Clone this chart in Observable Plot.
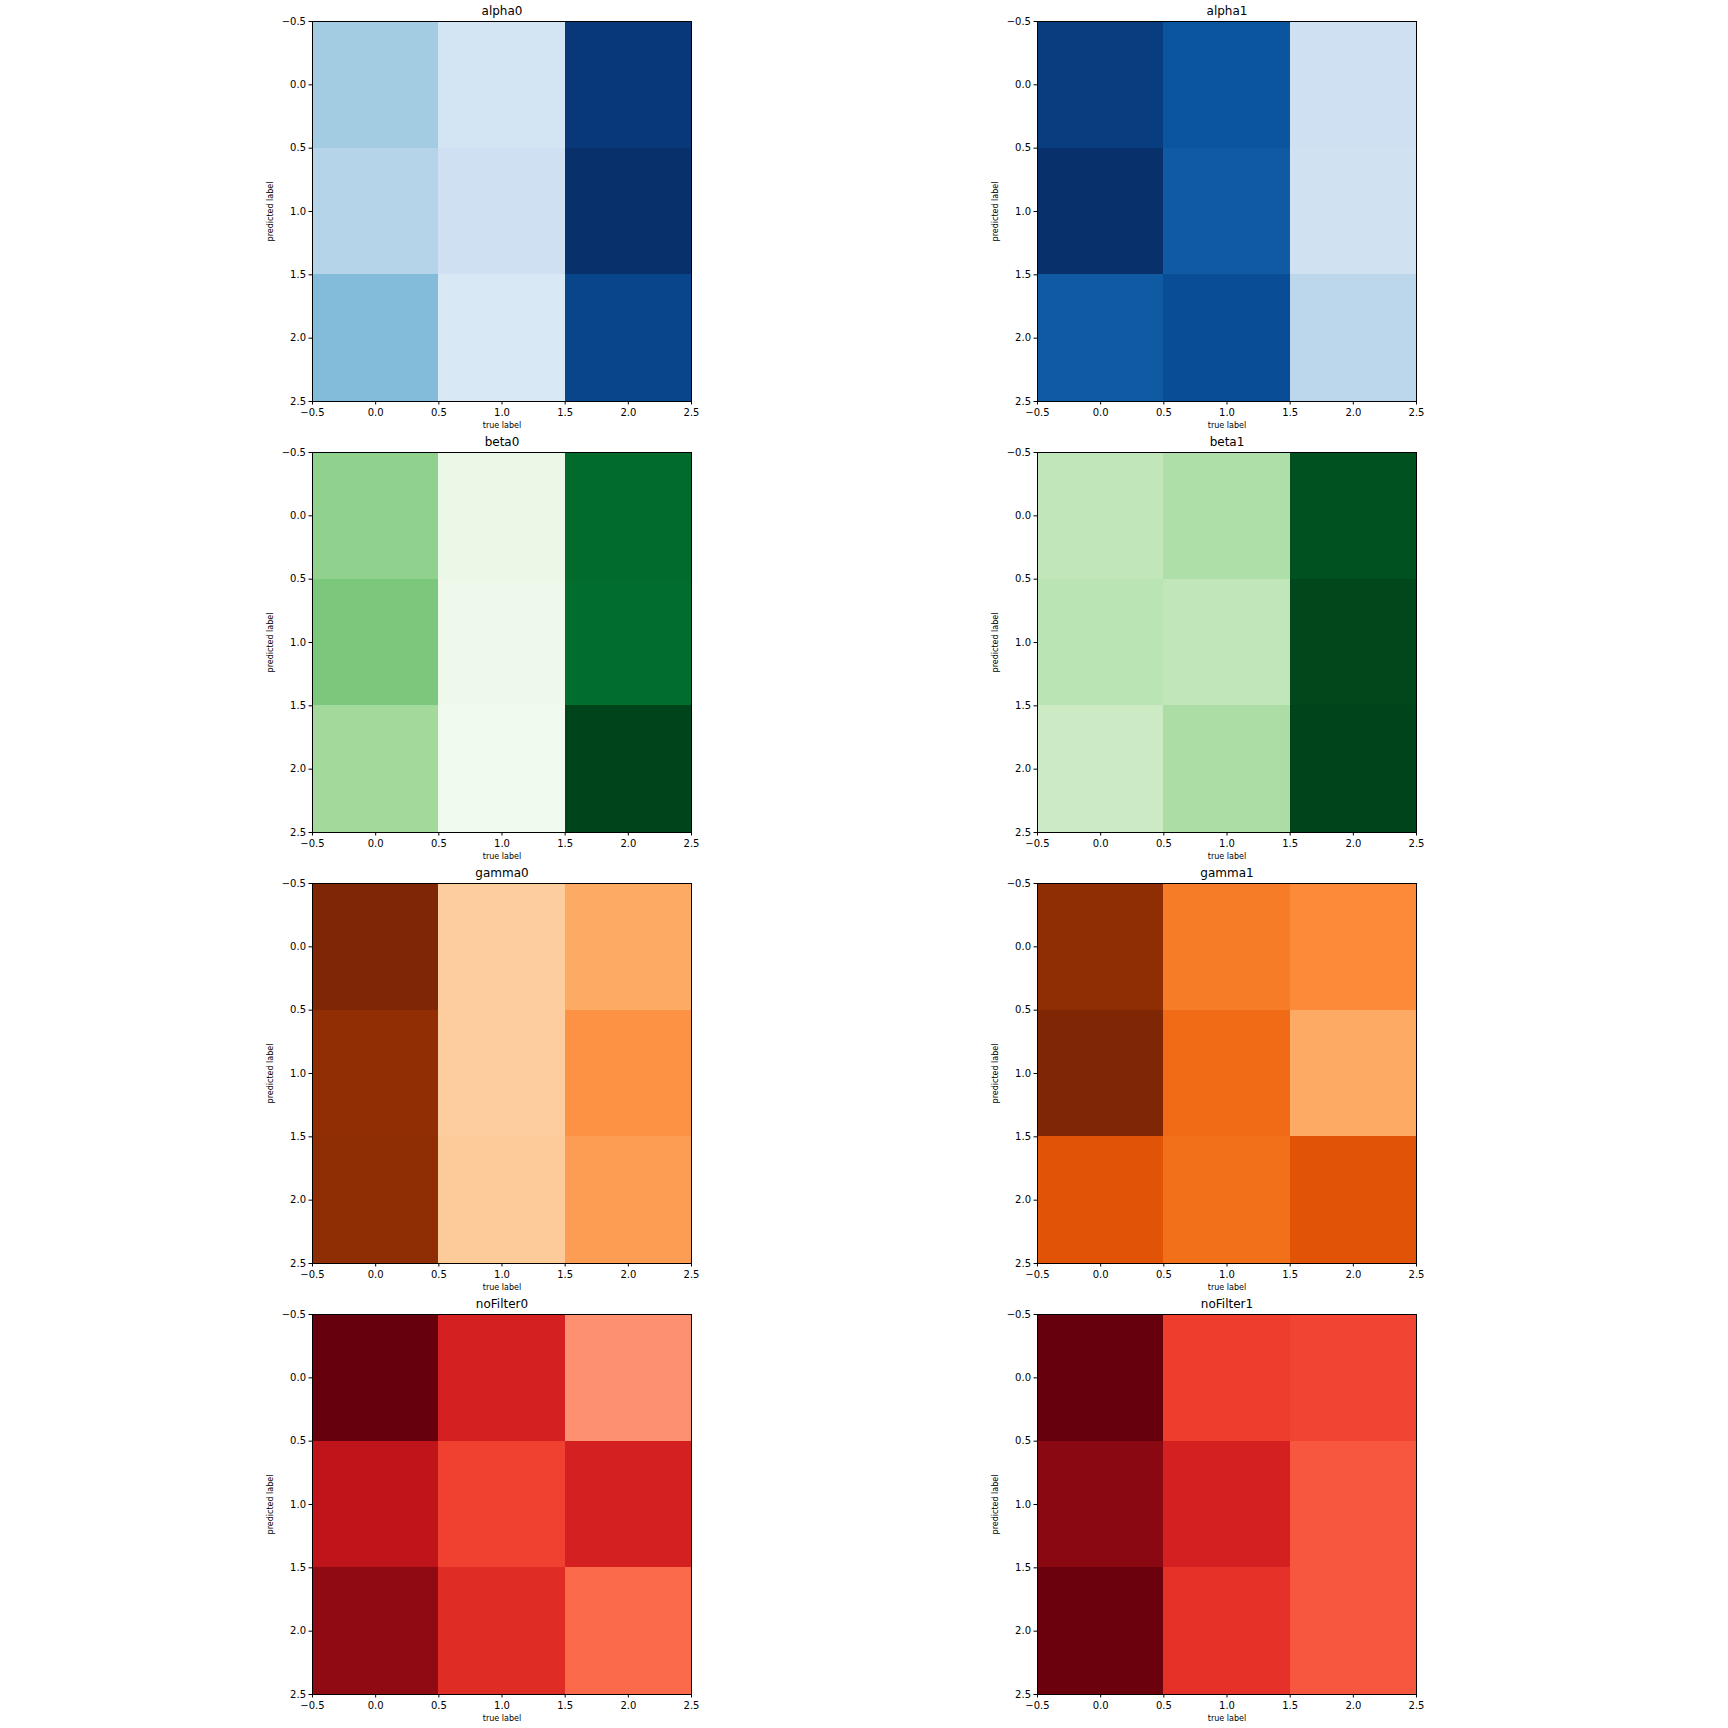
<!DOCTYPE html>
<html>
<head>
<meta charset="utf-8">
<script src="https://cdn.jsdelivr.net/npm/d3@7"></script>
<script src="https://cdn.jsdelivr.net/npm/@observablehq/plot@0.6"></script>
<style>
  body { margin: 0; background: white; }
  #root { position: relative; width: 1728px; height: 1728px; background: white; font-family: "DejaVu Sans", sans-serif; }
  #root > div { position: absolute; }
</style>
</head>
<body>
<div id="root"></div>
<script>
// Matrices (rows = predicted label, columns = true label), relative intensities
const alpha0   = [[36, 18, 97], [30, 21, 100], [44, 15, 92]];
const alpha1   = [[95, 86, 21], [100, 84, 20], [84, 89, 28]];
const beta0    = [[42, 8, 88], [48, 6, 87], [37, 4, 100]];
const beta1    = [[27, 33, 96], [29, 27, 99], [23, 34, 100]];
const gamma0   = [[100, 26, 39], [94, 26, 48], [95, 27, 44]];
const gamma1   = [[95, 56, 51], [100, 62, 39], [71, 60, 71]];
const noFilter0 = [[100, 72, 38], [79, 61, 72], [92, 68, 50]];
const noFilter1 = [[100, 62, 60], [93, 72, 55], [99, 66, 55]];

const panelNames = ["alpha0", "alpha1", "beta0", "beta1", "gamma0", "gamma1", "noFilter0", "noFilter1"];
const panelData = [alpha0, alpha1, beta0, beta1, gamma0, gamma1, noFilter0, noFilter1];

const tickValues = [-0.5, 0.0, 0.5, 1.0, 1.5, 2.0, 2.5];
const xLabel = "true label";
const yLabel = "predicted label";

const ramps = {
  Blues:   ["#f7fbff","#deebf7","#c6dbef","#9ecae1","#6baed6","#4292c6","#2171b5","#08519c","#08306b"],
  Greens:  ["#f7fcf5","#e5f5e0","#c7e9c0","#a1d99b","#74c476","#41ab5d","#238b45","#006d2c","#00441b"],
  Oranges: ["#fff5eb","#fee6ce","#fdd0a2","#fdae6b","#fd8d3c","#f16913","#d94801","#a63603","#7f2704"],
  Reds:    ["#fff5f0","#fee0d2","#fcbba1","#fc9272","#fb6a4a","#ef3b2c","#cb181d","#a50f15","#67000d"]
};
const panelRamps = ["Blues", "Blues", "Greens", "Greens", "Oranges", "Oranges", "Reds", "Reds"];

const root = document.getElementById("root");
const M = {top: 25, left: 60, right: 20, bottom: 35};
const W = 379, H = 380;
const colLeft = [312.3, 1037.3];
const rowTop = 21.3, rowStep = 431;

panelData.forEach((mat, k) => {
  const cells = [];
  mat.forEach((row, i) => row.forEach((v, j) => cells.push({i, j, v})));
  const vmax = d3.max(cells, d => d.v);
  const ramp = ramps[panelRamps[k]];
  const plot = Plot.plot({
    width: W + M.left + M.right,
    height: H + M.top + M.bottom,
    marginTop: M.top, marginLeft: M.left, marginRight: M.right, marginBottom: M.bottom,
    style: {background: "transparent", fontFamily: "DejaVu Sans, sans-serif", color: "#000"},
    x: {domain: [-0.5, 2.5], axis: null},
    y: {domain: [-0.5, 2.5], reverse: true, axis: null},
    color: {type: "linear", domain: d3.range(9).map(q => q / 8 * vmax), range: ramp, interpolate: "rgb"},
    marks: [
      Plot.rect(cells, {x1: d => d.j - 0.5, x2: d => d.j + 0.5, y1: d => d.i - 0.5, y2: d => d.i + 0.5, fill: "v", inset: 0, shapeRendering: "crispEdges"}),
      Plot.frame({stroke: "#000", strokeWidth: 1}),
      Plot.axisX({ticks: tickValues, tickFormat: d3.format(".1f"), tickSize: 3.5, tickPadding: 4, fontSize: 10, label: null, anchor: "bottom"}),
      Plot.axisY({ticks: tickValues, tickFormat: d3.format(".1f"), tickSize: 3.5, tickPadding: 3, fontSize: 10, label: null, anchor: "left"}),
      Plot.text([panelNames[k]], {text: d => d, frameAnchor: "top", lineAnchor: "middle", textAnchor: "middle", dy: -10, fontSize: 12, fill: "#000"}),
      Plot.text([xLabel], {text: d => d, frameAnchor: "bottom", lineAnchor: "middle", textAnchor: "middle", dy: 24, fontSize: 8, fill: "#000"}),
      Plot.text([yLabel], {text: d => d, frameAnchor: "left", lineAnchor: "middle", textAnchor: "middle", dx: -42, rotate: -90, fontSize: 8, fill: "#000"})
    ]
  });
  const wrap = document.createElement("div");
  wrap.style.left = (colLeft[k % 2] - M.left) + "px";
  wrap.style.top = (rowTop + rowStep * Math.floor(k / 2) - M.top) + "px";
  wrap.appendChild(plot);
  root.appendChild(wrap);
});
</script>
</body>
</html>
